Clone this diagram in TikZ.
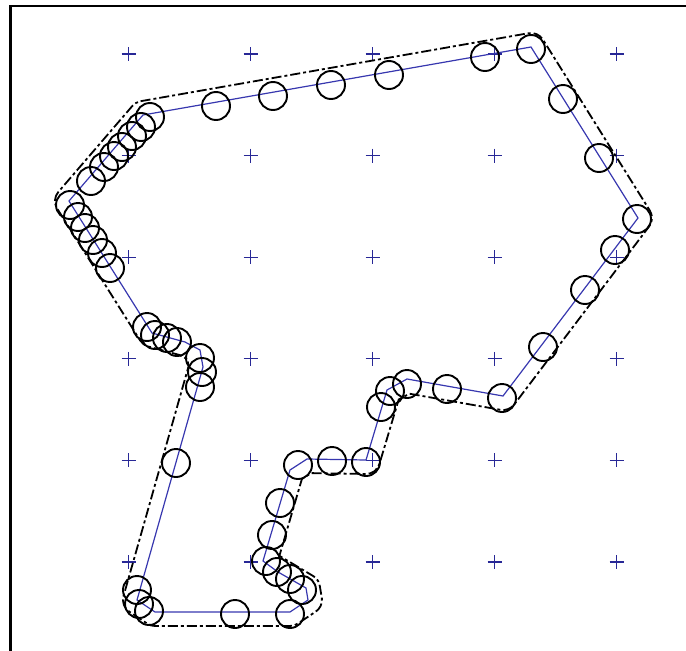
\documentclass[tikz,border=0pt]{standalone}
\usetikzlibrary{calc}
\definecolor{pathblue}{RGB}{55,55,175}
\definecolor{plusblue}{RGB}{40,40,150}
\tikzset{
  robot/.style={circle, draw=black, line width=1.9pt, minimum size=28pt, inner sep=0pt, outer sep=0pt},
  pluscol/.style={draw=plusblue, line width=1.3pt},
  route/.style={draw=pathblue, line width=1.2pt},
  hull/.style={draw=black, line width=1.8pt, dash pattern=on 10pt off 3pt on 3pt off 3pt},
  frame/.style={draw=black, line width=2.5pt}
}
\begin{document}
\begin{tikzpicture}[x=1pt,y=1pt,yscale=-1]
\useasboundingbox (0,0) rectangle (686,651);
% frame
\coordinate (f1) at (10.5,651);
\coordinate (f2) at (10.5,6);
\coordinate (f3) at (686,6);
\draw[frame] (f1) -- (f2) -- (f3);
% grid of plus marks
\foreach \i in {0,...,4}{
  \foreach \j in {0,...,5}{
    \coordinate (g\i\j) at ({128.5+122*\i},{54+101.6*\j});
    \draw[pluscol] (g\i\j) +(-7,0) -- +(7,0) (g\i\j) +(0,-7) -- +(0,7);
  }
}
% route vertices
\coordinate (A) at (143,115);
\coordinate (B) at (531,47);
\coordinate (C) at (638,218);
\coordinate (D) at (503,396);
\coordinate (E) at (407,379);
\coordinate (F) at (387,390);
\coordinate (G) at (366,460);
\coordinate (H) at (307,459);
\coordinate (I) at (290,470);
\coordinate (J) at (263,561);
\coordinate (J2) at (278,572);
\coordinate (K) at (306,588);
\coordinate (L) at (308,600);
\coordinate (M) at (290,612);
\coordinate (N) at (155,612);
\coordinate (O) at (137,600);
\coordinate (P) at (203,367);
\coordinate (Q) at (200,350);
\coordinate (R) at (185,342);
\coordinate (S) at (152,333);
\coordinate (T) at (69,201);
\draw[route] (A) -- (B) -- (C) -- (D) -- (E) -- (F) -- (G) -- (H) -- (I) -- (J) -- (J2) -- (K) -- (L) -- (M) -- (N) -- (O) -- (P) -- (Q) -- (R) -- (S) -- (T) -- cycle;
% swept outline
\coordinate (h1) at (140.6,101.2);
\coordinate (h2) at (528.6,33.2);
\coordinate (h3) at (649.8,210.5);
\coordinate (h4) at (514.2,404.5);
\coordinate (h5) at (409.4,393.7);
\coordinate (h6) at (398.7,399.5);
\coordinate (h7) at (379.4,464);
\coordinate (h8) at (311.1,473.1);
\coordinate (h9) at (301.9,479.0);
\coordinate (h10) at (279.4,555.8);
\coordinate (h11) at (313.5,576.2);
\coordinate (h12) at (321.9,598.6);
\coordinate (h13) at (297.8,623.6);
\coordinate (h14) at (155,626);
\coordinate (h15) at (129.2,611.6);
\coordinate (h16) at (188.6,366.2);
\coordinate (h17) at (187.4,359.2);
\coordinate (h18) at (179.6,355.0);
\coordinate (h19) at (148.3,346.5);
\coordinate (h20) at (57.2,208.6);
\coordinate (h21) at (132.4,105.9);
\draw[hull] (h1) -- (h2) arc[start angle=-100, end angle=-32.3, radius=14]
  -- (h3) arc[start angle=-32.3, end angle=37.2, radius=14]
  -- (h4) arc[start angle=37.2, end angle=100, radius=14]
  -- (h5) -- (h6)
  -- (h7) arc[start angle=16.7, end angle=91, radius=14]
  -- (h8) -- (h9) -- (h10)
  -- (h11) arc[start angle=-57.5, end angle=-5.7, radius=14]
  -- (h12) arc[start angle=-5.7, end angle=56.3, radius=14]
  -- (h13) arc[start angle=56.3, end angle=90, radius=14]
  -- (h14) arc[start angle=90, end angle=123.7, radius=14]
  -- (h15) arc[start angle=123.7, end angle=195.8, radius=14]
  -- (h16) -- (h17) -- (h18)
  -- (h19) arc[start angle=105.2, end angle=147.3, radius=14]
  -- (h20) arc[start angle=147.3, end angle=220.8, radius=14]
  -- (h21) arc[start angle=220.8, end angle=260, radius=14] -- cycle;
% robot positions
\foreach \x/\y [count=\k] in {
  531/49, 485/57, 389/75, 331/85, 273/96, 216/106,
  150/117, 141/127, 132/136, 122/147, 114/156, 104/167, 91/181, 70/205,
  78/217, 85/228, 93/240, 102/253, 110/268,
  147/327, 155/335, 167/338, 177/342, 200/358, 202/372, 200/387,
  176/463, 137/590, 139/604, 149/611, 235/614, 290/614,
  302/590, 290/579, 277/572, 266/561, 272/535, 280/503, 298/465,
  332/461, 366/462, 381/407, 390/391, 407/384, 447/389, 502/398,
  543/347, 585/290, 615/250, 637/219, 599/158, 563/99}{
  \node[robot] (r\k) at (\x,\y) {};
}
\end{tikzpicture}
\end{document}
